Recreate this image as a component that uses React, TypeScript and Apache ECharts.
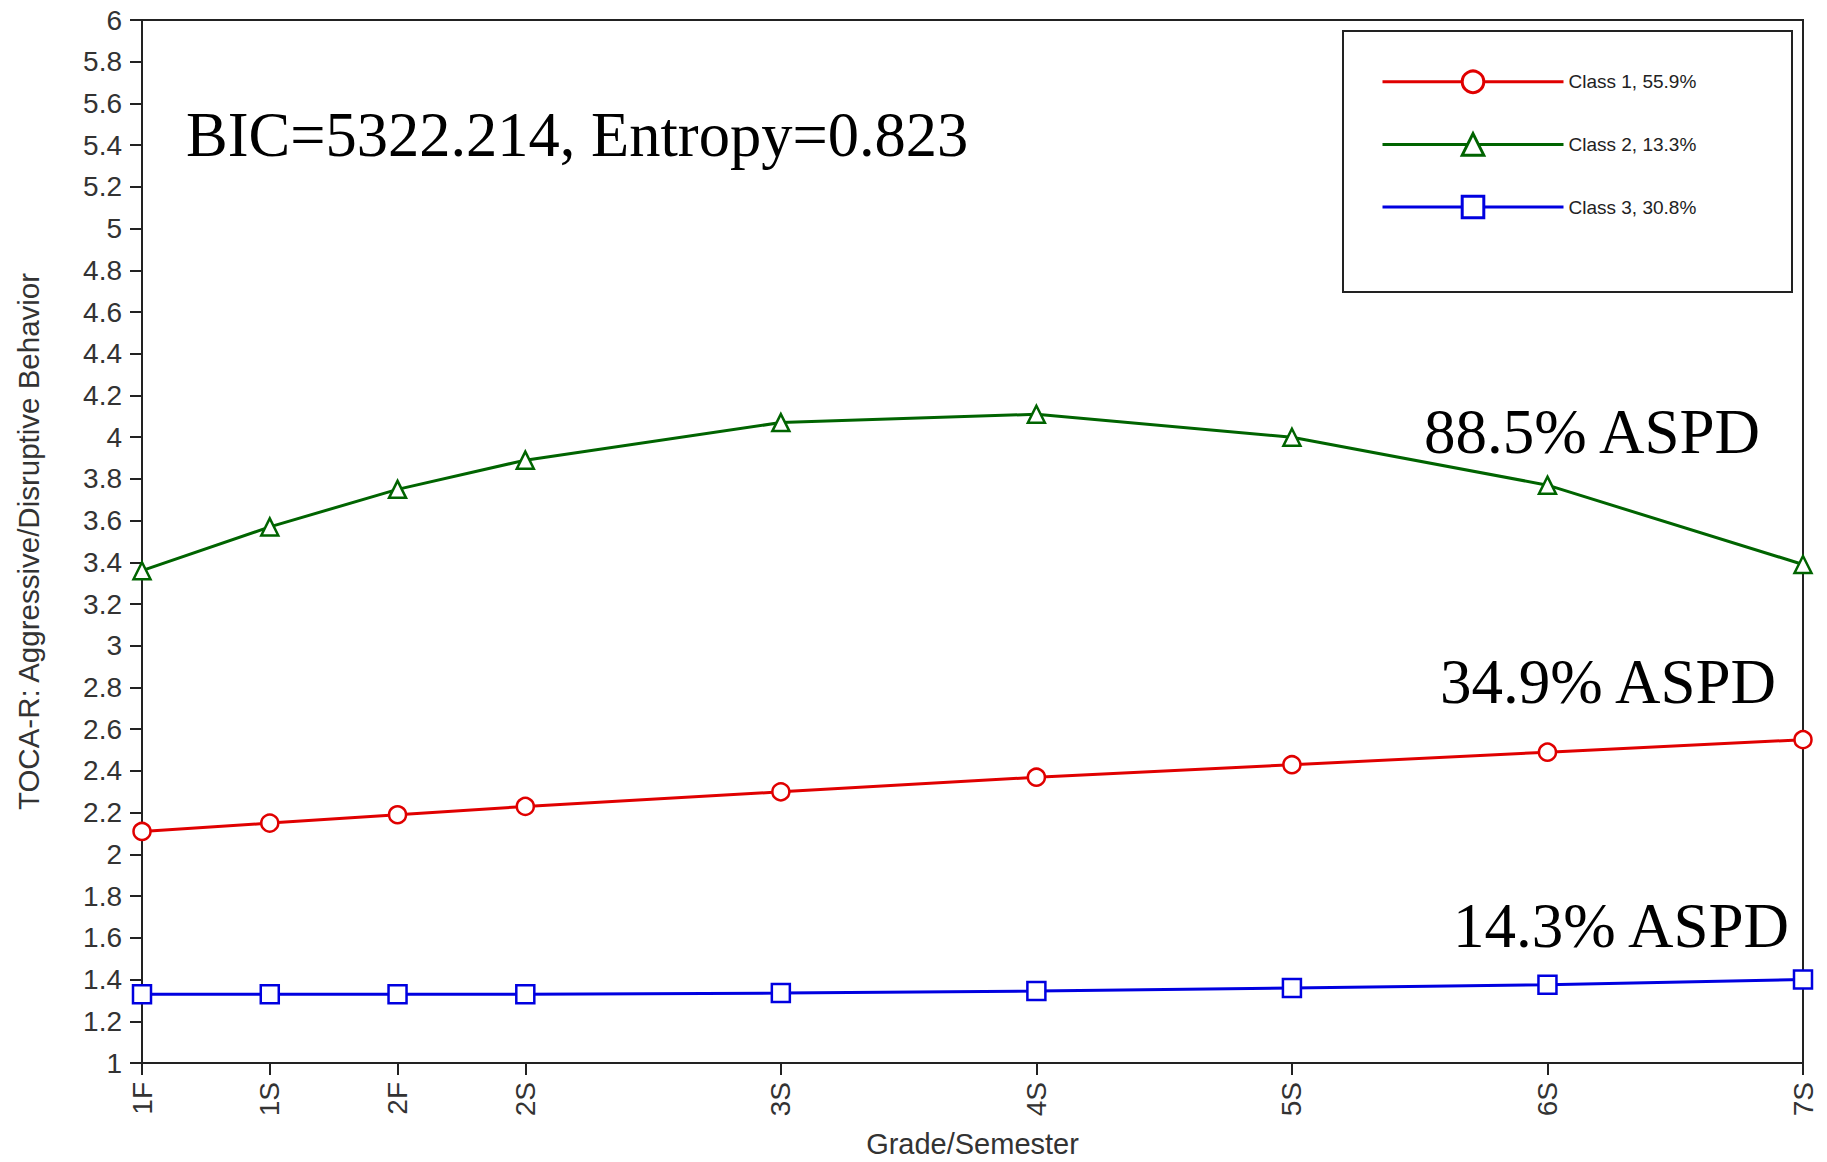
import React, { useEffect, useRef } from 'react';
import * as echarts from 'echarts';

// Measurement occasions (grade units from 1st grade fall) and their labels
const timePoints = [0, 0.5, 1, 1.5, 2.5, 3.5, 4.5, 5.5, 6.5];
const gradeLabels = ['1F', '1S', '2F', '2S', '3S', '4S', '5S', '6S', '7S'];

// Estimated class trajectories
const class1 = [2.11, 2.15, 2.19, 2.23, 2.3, 2.37, 2.43, 2.49, 2.55];
const class2 = [3.36, 3.57, 3.75, 3.89, 4.07, 4.11, 4.0, 3.77, 3.39];
const class3 = [1.33, 1.33, 1.33, 1.33, 1.335, 1.345, 1.36, 1.375, 1.4];

const seriesNames = ['Class 1, 55.9%', 'Class 2, 13.3%', 'Class 3, 30.8%'];
const aspdLabels = ['88.5% ASPD', '34.9% ASPD', '14.3% ASPD'];
const fitText = 'BIC=5322.214, Entropy=0.823';
const yAxisTitle = 'TOCA-R: Aggressive/Disruptive Behavior';
const xAxisTitle = 'Grade/Semester';

const SANS = '"Liberation Sans", Arial, sans-serif';
const SERIF = '"Liberation Serif", "Times New Roman", serif';

export default function App() {
  const ref = useRef<HTMLDivElement>(null);

  useEffect(() => {
    document.body.style.margin = '0';
    document.body.style.overflow = 'hidden';
    const chart = echarts.init(ref.current!, null, { renderer: 'svg' });

    const mk = (vals: number[]) => timePoints.map((t, i) => [t, vals[i]]);
    const colors = ['#e00000', '#006400', '#0000e0'];
    const symbols = ['circle', 'triangle', 'rect'];
    const sizes = [17, 17, 18];
    const datas = [class1, class2, class3];

    const series = datas.map((d, i) => ({
      name: seriesNames[i],
      type: 'line',
      data: mk(d),
      symbol: symbols[i],
      symbolSize: sizes[i],
      showAllSymbol: true,
      clip: true,
      lineStyle: { color: colors[i], width: 3 },
      itemStyle: { color: '#ffffff', borderColor: colors[i], borderWidth: 2.5 },
      emphasis: { disabled: true },
      z: 3,
    }));

    const option: any = {
      animation: false,
      backgroundColor: '#ffffff',
      grid: {
        left: 142,
        right: 24,
        top: 20,
        bottom: 99,
        containLabel: false,
        outerBoundsMode: 'none',
        show: true,
        borderColor: '#222',
        borderWidth: 2,
        backgroundColor: 'transparent',
      },
      legend: {
        orient: 'vertical',
        left: 1381,
        top: 69.5,
        itemWidth: 181,
        itemHeight: 27,
        itemGap: 38,
        padding: 0,
        data: seriesNames,
        lineStyle: { width: 3 },
        itemStyle: { borderWidth: 3 },
        textStyle: { fontFamily: SANS, fontSize: 19, color: '#222', padding: [2, 0, 0, 0] },
        selectedMode: false,
      },
      xAxis: {
        type: 'value',
        min: 0,
        max: 6.5,
        name: xAxisTitle,
        nameLocation: 'middle',
        nameGap: 66,
        nameTextStyle: { fontFamily: SANS, fontSize: 29, color: '#333' },
        axisLine: { show: true, lineStyle: { color: '#222', width: 2 } },
        axisTick: { show: true, length: 12, lineStyle: { color: '#222', width: 2 }, customValues: timePoints },
        axisLabel: {
          customValues: timePoints,
          rotate: 90,
          margin: 19,
          fontFamily: SANS,
          fontSize: 28,
          color: '#333',
          formatter: (v: number) => {
            const idx = timePoints.findIndex((t) => Math.abs(t - v) < 1e-6);
            return idx >= 0 ? gradeLabels[idx] : '';
          },
        },
        splitLine: { show: false },
      },
      yAxis: {
        type: 'value',
        min: 1,
        max: 6,
        interval: 0.2,
        name: yAxisTitle,
        nameLocation: 'middle',
        nameGap: 99,
        nameTextStyle: { fontFamily: SANS, fontSize: 29.5, color: '#333' },
        axisLine: { show: true, lineStyle: { color: '#222', width: 2 } },
        axisTick: { show: true, length: 12, lineStyle: { color: '#222', width: 2 } },
        axisLabel: {
          margin: 20,
          fontFamily: SANS,
          fontSize: 28,
          color: '#333',
          formatter: (v: number) => String(Math.round(v * 10) / 10),
        },
        splitLine: { show: false },
      },
      graphic: [
        {
          type: 'rect',
          shape: { x: 1343, y: 31, width: 449, height: 261 },
          style: { fill: 'none', stroke: '#222', lineWidth: 2 },
          z: 10,
        },
        {
          type: 'text',
          x: 186,
          y: 135,
          style: { text: fitText, font: `62.5px ${SERIF}`, fill: '#000', textVerticalAlign: 'middle' },
          z: 10,
        },
        {
          type: 'text',
          x: 1424,
          y: 432,
          style: { text: aspdLabels[0], font: `63px ${SERIF}`, fill: '#000', textVerticalAlign: 'middle' },
          z: 10,
        },
        {
          type: 'text',
          x: 1440,
          y: 682,
          style: { text: aspdLabels[1], font: `63px ${SERIF}`, fill: '#000', textVerticalAlign: 'middle' },
          z: 10,
        },
        {
          type: 'text',
          x: 1453,
          y: 926,
          style: { text: aspdLabels[2], font: `63px ${SERIF}`, fill: '#000', textVerticalAlign: 'middle' },
          z: 10,
        },
      ],
      series,
    };

    chart.setOption(option);
    return () => chart.dispose();
  }, []);

  return <div ref={ref} style={{ width: 1827, height: 1162 }} />;
}
